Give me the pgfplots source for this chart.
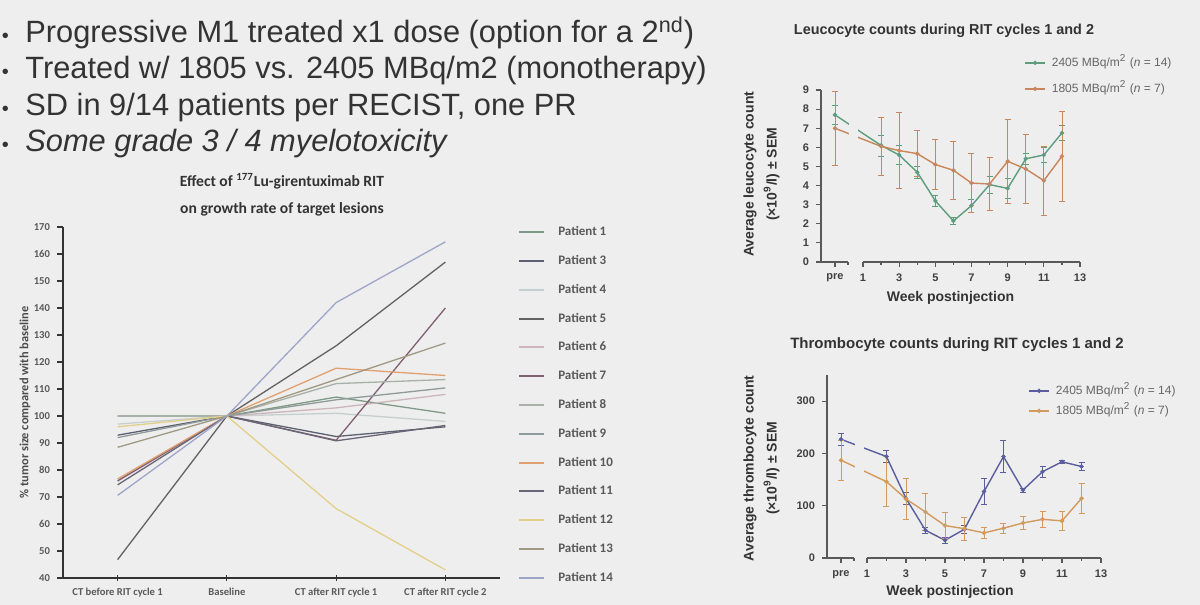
\documentclass[border=0pt]{standalone}
\usepackage{pgfplots}
\usepackage{pgfplotstable}
\pgfplotsset{compat=1.18}
\pgfplotsset{/pgf/number format/assume math mode=true}
\usepackage{fontspec}
\setmainfont{Liberation Sans}
\newfontfamily\calib{Carlito}
\definecolor{bg}{HTML}{EEEEEE}
\definecolor{txt}{HTML}{333333}
\definecolor{pA}{HTML}{7F9A85}
\definecolor{pC}{HTML}{5C6070}
\definecolor{pD}{HTML}{C5CFCF}
\definecolor{pE}{HTML}{626262}
\definecolor{pF}{HTML}{CDB5BB}
\definecolor{pG}{HTML}{806070}
\definecolor{pH}{HTML}{A8B0A8}
\definecolor{pI}{HTML}{8F9A9A}
\definecolor{pJ}{HTML}{E0A070}
\definecolor{pK}{HTML}{6B6578}
\definecolor{pL}{HTML}{E3CF8A}
\definecolor{pM}{HTML}{A09A85}
\definecolor{pN}{HTML}{9FA5C8}
\definecolor{lgreen}{HTML}{5E9C7E}
\definecolor{lorange}{HTML}{C8865A}
\definecolor{tblue}{HTML}{5B5E9E}
\definecolor{torange}{HTML}{D39A5E}

\pgfplotstableread{
x y e
-0.55 7.7 0.5
2 6.1 0.55
3 5.6 0.5
4 4.7 0.3
5 3.2 0.3
6 2.15 0.2
7 2.95 0.35
8 4.05 0.45
9 3.85 0.5
10 5.4 0.3
11 5.6 0.4
12 6.75 0.4
}\leucoA
\pgfplotstableread{
x y e
-0.55 7.0 1.95
2 6.05 1.5
3 5.83 2.0
4 5.67 1.2
5 5.1 1.3
6 4.8 1.5
7 4.13 1.55
8 4.08 1.4
9 5.27 2.2
10 4.87 1.8
11 4.26 1.8
12 5.53 2.35
}\leucoB
\pgfplotstableread{
x y e
-0.33 227 12
2 194 12
3 114 12
4 53 6
5 34 6
6 55 8
7 127 25
8 194 30
9 130 4
10 165 10
11 184 3
12 175 8
}\thromA
\pgfplotstableread{
x y e
-0.33 187 38
2 146 48
3 113 40
4 88 35
5 62 25
6 56 22
7 48 10
8 57 10
9 67 13
10 74 16
11 71 18
12 114 28
}\thromB

\begin{document}
\begin{tikzpicture}
\fill[bg] (0,0) rectangle (600pt,302.5pt);
\useasboundingbox (0,0) rectangle (600pt,302.5pt);

% bullet text
\begin{scope}[every node/.style={anchor=base west, inner sep=0pt, text=txt}]
\foreach \yy in {281,263,244.5,226.5} {\node[font=\fontsize{10}{10}\selectfont] at (0.8pt,\yy pt) {\textbullet};}
\node[font=\fontsize{15.4}{15.4}\selectfont] at (12.5pt,281pt) {Progressive M1 treated x1 dose (option for a 2\textsuperscript{nd})};
\node[font=\fontsize{15.4}{15.4}\selectfont] at (12.5pt,263pt) {Treated w/ 1805 vs. 2405 MBq/m2 (monotherapy)};
\node[font=\fontsize{15.4}{15.4}\selectfont] at (12.5pt,244.5pt) {SD in 9/14 patients per RECIST, one PR};
\node[font=\fontsize{15.4}{15.4}\selectfont\itshape] at (12.5pt,226.5pt) {Some grade 3 / 4 myelotoxicity};
\end{scope}

% left chart title
\node[align=center, font=\calib\bfseries\fontsize{7.8}{13.5}\selectfont, text=black!80] at (141pt,205pt) {Effect of \textsuperscript{177}Lu-girentuximab RIT\\on growth rate of target lesions};

\begin{axis}[
  at={(31.5pt,13.5pt)}, anchor=south west,
  scale only axis, width=218.5pt, height=175.5pt,
  xmin=-0.5, xmax=3.5, ymin=40, ymax=170,
  axis lines=left, axis line style={-, draw=black!80, line width=0.8pt},
  xtick={0,1,2,3},
  xticklabels={CT before RIT cycle 1, Baseline, CT after RIT cycle 1, CT after RIT cycle 2},
  ytick={40,50,...,170},
  tick style={draw=black!80, line width=0.6pt},
  major tick length=3pt,
  ytick align=outside, xtick align=center,
  ticklabel style={font=\calib\bfseries\fontsize{5.3}{6}\selectfont, text=black!65},
  ylabel={\% tumor size compared with baseline},
  ylabel style={font=\calib\bfseries\fontsize{6.2}{7}\selectfont, text=black!70, at={(axis description cs:-0.087,0.5)}, anchor=center},
  legend style={at={(axis description cs:1.041,1.005)}, anchor=north west, draw=none, fill=none, inner sep=0pt, row sep=7.9pt,
    font=\calib\bfseries\fontsize{6.5}{7}\selectfont, text=black!65,
    nodes={inner sep=0pt, text height=5pt, text depth=1.5pt},
    /tikz/every odd column/.append style={column sep=6.5pt}},
  legend image code/.code={\draw[#1, line width=1pt] (0pt,0pt) -- (12.5pt,0pt);},
  legend cell align=left,
  clip=false,
  every axis plot/.append style={line width=0.65pt, mark=none},
]
\addplot[pA] coordinates {(0,100) (1,100) (2,107) (3,101)};
\addlegendentry{Patient 1}
\addplot[pC] coordinates {(0,92.9) (1,100) (2,92.4) (3,96)};
\addlegendentry{Patient 3}
\addplot[pD] coordinates {(0,97) (1,100) (2,101) (3,98)};
\addlegendentry{Patient 4}
\addplot[pE] coordinates {(0,46.8) (1,100) (2,126) (3,157)};
\addlegendentry{Patient 5}
\addplot[pF] coordinates {(0,75.8) (1,100) (2,103) (3,108)};
\addlegendentry{Patient 6}
\addplot[pG] coordinates {(0,76) (1,100) (2,91) (3,140)};
\addlegendentry{Patient 7}
\addplot[pH] coordinates {(0,100) (1,100) (2,112) (3,113.5)};
\addlegendentry{Patient 8}
\addplot[pI] coordinates {(0,92) (1,100) (2,106) (3,110.4)};
\addlegendentry{Patient 9}
\addplot[pJ] coordinates {(0,76.7) (1,100) (2,117.7) (3,115)};
\addlegendentry{Patient 10}
\addplot[pK] coordinates {(0,74.5) (1,100) (2,90.8) (3,96.5)};
\addlegendentry{Patient 11}
\addplot[pL] coordinates {(0,96) (1,100) (2,65.7) (3,43)};
\addlegendentry{Patient 12}
\addplot[pM] coordinates {(0,88.4) (1,100) (2,113.5) (3,127)};
\addlegendentry{Patient 13}
\addplot[pN] coordinates {(0,70.6) (1,100) (2,142) (3,164.5)};
\addlegendentry{Patient 14}
\end{axis}

% top right
\node[font=\bfseries\fontsize{7.2}{8}\selectfont, text=black!80] at (472pt,287pt) {Leucocyte counts during RIT cycles 1 and 2};
\begin{axis}[
  at={(410.5pt,171.5pt)}, anchor=south west,
  scale only axis, width=129.5pt, height=86pt,
  xmin=-1.32, xmax=13, ymin=0, ymax=9,
  axis lines=left,
  axis line style={-, draw=black!65, line width=0.6pt},
  x axis line style={draw=none},
  xtick={-0.55,1,3,5,7,9,11,13},
  xticklabels={pre,1,3,5,7,9,11,13},
  minor xtick={0.17,2,4,6,8,10,12},
  ytick={0,...,9},
  tick align=outside, major tick length=2.5pt, minor tick length=1.5pt,
  tick style={draw=black!65, line width=0.6pt},
  ticklabel style={font=\bfseries\fontsize{5.5}{6}\selectfont, text=black!75},
  xlabel={Week postinjection},
  xlabel style={font=\bfseries\fontsize{7}{8}\selectfont, text=black!80, at={(axis description cs:0.5,0)}, anchor=center, yshift=-18pt},
  ylabel={Average leucocyte count\\(\texttimes10\textsuperscript{9}/l) \textpm{} SEM},
  ylabel style={font=\bfseries\fontsize{7}{11.5}\selectfont, text=black!80, align=center, at={(axis description cs:-0.23,0.51)}, anchor=center},
  legend style={at={(axis description cs:0.784,1.198)}, anchor=north west, draw=none, fill=none, inner sep=0pt, row sep=6.5pt,
    font=\fontsize{6}{7}\selectfont, text=black!60,
    nodes={inner sep=0pt, text height=5pt, text depth=1.5pt},
    /tikz/every odd column/.append style={column sep=3pt}},
  legend image code/.code={\draw[mark repeat=2,mark phase=2,#1] plot coordinates {(0pt,0pt) (5pt,0pt) (10pt,0pt)};},
  legend cell align=left,
  clip=false,
  every axis plot/.append style={line width=0.7pt, mark=*, mark size=0.7pt},
]
\addplot[lgreen, mark options={fill=lgreen}, error bars/.cd, y dir=both, y explicit, error bar style={line width=0.4pt}, error mark options={rotate=90, mark size=1.5pt, line width=0.4pt}] table[x=x,y=y,y error=e] {\leucoA};
\addlegendentry{2405 MBq/m\textsuperscript{2} (\textit{n} = 14)}
\addplot[lorange, mark options={fill=lorange}, error bars/.cd, y dir=both, y explicit, error bar style={line width=0.4pt}, error mark options={rotate=90, mark size=1.5pt, line width=0.4pt}] table[x=x,y=y,y error=e] {\leucoB};
\addlegendentry{1805 MBq/m\textsuperscript{2} (\textit{n} = 7)}
\fill[bg] (axis cs:0.22,0.05) rectangle (axis cs:0.72,9);
\draw[black!65, line width=0.6pt] (axis cs:-1.32,0) -- (axis cs:0.17,0);
\draw[black!65, line width=0.6pt] (axis cs:1,0) -- (axis cs:13,0);
\end{axis}

% bottom right
\node[font=\bfseries\fontsize{7.5}{8}\selectfont, text=black!80] at (478.5pt,130pt) {Thrombocyte counts during RIT cycles 1 and 2};
\begin{axis}[
  at={(413.5pt,23.5pt)}, anchor=south west,
  scale only axis, width=137pt, height=91.5pt,
  xmin=-1.05, xmax=13, ymin=0, ymax=350,
  axis lines=left,
  axis line style={-, draw=black!65, line width=0.6pt},
  x axis line style={draw=none},
  xtick={-0.33,1,3,5,7,9,11,13},
  xticklabels={pre,1,3,5,7,9,11,13},
  minor xtick={0.33,2,4,6,8,10,12},
  ytick={0,100,200,300},
  tick align=outside, major tick length=2.5pt, minor tick length=1.5pt,
  tick style={draw=black!65, line width=0.6pt},
  ticklabel style={font=\bfseries\fontsize{5.5}{6}\selectfont, text=black!75},
  xlabel={Week postinjection},
  xlabel style={font=\bfseries\fontsize{7}{8}\selectfont, text=black!80, at={(axis description cs:0.449,0)}, anchor=center, yshift=-17pt},
  ylabel={Average thrombocyte count\\(\texttimes10\textsuperscript{9}/l) \textpm{} SEM},
  ylabel style={font=\bfseries\fontsize{7}{11.5}\selectfont, text=black!80, align=center, at={(axis description cs:-0.239,0.49)}, anchor=center},
  legend style={at={(axis description cs:0.734,0.951)}, anchor=north west, draw=none, fill=none, inner sep=0pt, row sep=3.5pt,
    font=\fontsize{6}{7}\selectfont, text=black!60,
    nodes={inner sep=0pt, text height=5pt, text depth=1.5pt},
    /tikz/every odd column/.append style={column sep=3pt}},
  legend image code/.code={\draw[mark repeat=2,mark phase=2,#1] plot coordinates {(0pt,0pt) (5pt,0pt) (10pt,0pt)};},
  legend cell align=left,
  clip=false,
  every axis plot/.append style={line width=0.7pt, mark=*, mark size=0.7pt},
]
\addplot[tblue, mark options={fill=tblue}, error bars/.cd, y dir=both, y explicit, error bar style={line width=0.4pt}, error mark options={rotate=90, mark size=1.5pt, line width=0.4pt}] table[x=x,y=y,y error=e] {\thromA};
\addlegendentry{2405 MBq/m\textsuperscript{2} (\textit{n} = 14)}
\addplot[torange, mark options={fill=torange}, error bars/.cd, y dir=both, y explicit, error bar style={line width=0.4pt}, error mark options={rotate=90, mark size=1.5pt, line width=0.4pt}] table[x=x,y=y,y error=e] {\thromB};
\addlegendentry{1805 MBq/m\textsuperscript{2} (\textit{n} = 7)}
\fill[bg] (axis cs:0.38,2) rectangle (axis cs:0.85,350);
\draw[black!65, line width=0.6pt] (axis cs:-1.05,0) -- (axis cs:0.33,0);
\draw[black!65, line width=0.6pt] (axis cs:1,0) -- (axis cs:13,0);
\end{axis}
\end{tikzpicture}
\end{document}
